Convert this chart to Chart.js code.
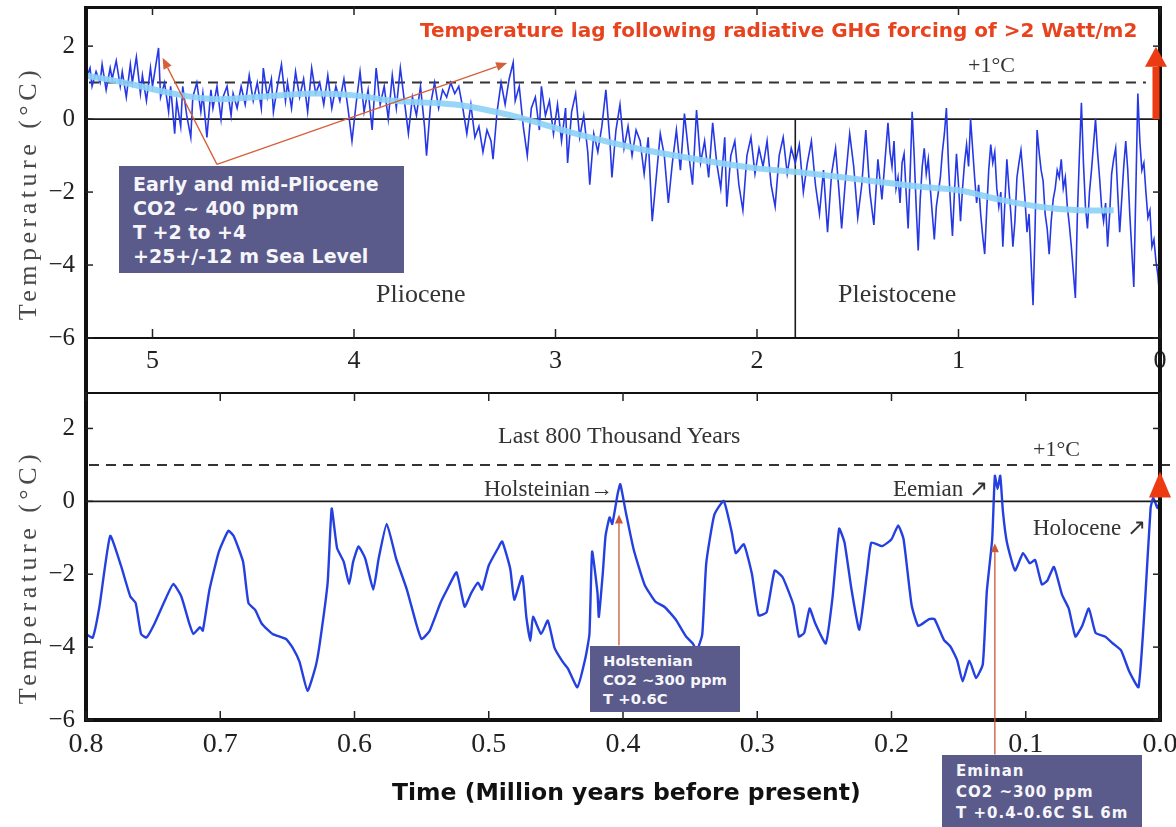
<!DOCTYPE html>
<html>
<head>
<meta charset="utf-8">
<script src="https://cdn.jsdelivr.net/npm/chart.js@4.4.1/dist/chart.umd.min.js"></script>
<style>
  body { margin: 0; background: #fff; }
  #wrap { position: relative; width: 1176px; height: 827px; overflow: hidden; }
  canvas { position: absolute; left: 0; }
  #topChart { top: 0; }
  #lowChart { top: 392px; }
  .lbl { position: absolute; font-family: 'Liberation Serif', serif; color: #333; white-space: nowrap; line-height: 1; }
  .box { position: absolute; background: #5a5b8b; color: #f6f6fa; font-family: 'DejaVu Sans', sans-serif; font-weight: bold; white-space: nowrap; box-sizing: border-box; }
  .ytitle { position: absolute; font-family: 'Liberation Serif', serif; font-size: 26px; color: #4a4a4a; letter-spacing: 4.5px; white-space: nowrap; transform: translate(-50%, -50%) rotate(-90deg); }
</style>
</head>
<body>
<div id="wrap">
  <canvas id="topChart" width="1176" height="392"></canvas>
  <canvas id="lowChart" width="1176" height="435"></canvas>

  <div class="ytitle" style="left:28px; top:193px;">Temperature (°C)</div>
  <div class="ytitle" style="left:28px; top:577px;">Temperature (°C)</div>

  <div class="lbl" style="left:420px; top:20px; font-family:'DejaVu Sans',sans-serif; font-weight:bold; font-size:20px; color:#e8431f;">Temperature lag following radiative GHG forcing of &gt;2 Watt/m2</div>
  <div class="lbl" style="left:968px; top:54px; font-size:22px;">+1°C</div>
  <div class="lbl" style="left:376px; top:281px; font-size:26px;">Pliocene</div>
  <div class="lbl" style="left:838px; top:281px; font-size:26px;">Pleistocene</div>

  <div class="lbl" style="left:498px; top:423px; font-size:24px;">Last 800 Thousand Years</div>
  <div class="lbl" style="left:1033px; top:438px; font-size:22px;">+1°C</div>
  <div class="lbl" style="left:484px; top:477px; font-size:23px;">Holsteinian→</div>
  <div class="lbl" style="left:893px; top:477px; font-size:23px;">Eemian ↗</div>
  <div class="lbl" style="left:1033px; top:516px; font-size:23px;">Holocene ↗</div>

  <div class="box" style="left:119px; top:166px; width:285px; height:107px; padding:6px 0 0 14px; font-size:19px; line-height:24px;">Early and mid-Pliocene<br>CO2 ~ 400 ppm<br>T +2 to +4<br>+25+/-12 m Sea Level</div>
  <div class="box" style="left:590px; top:646px; width:150px; height:66px; padding:5px 0 0 13px; font-size:14.8px; line-height:19px;">Holstenian<br>CO2 ~300 ppm<br>T +0.6C</div>
  <div class="box" style="left:942px; top:755px; width:200px; height:72px; padding:6px 0 0 14px; font-size:15px; letter-spacing:1px; line-height:21px;">Eminan<br>CO2 ~300 ppm<br>T +0.4-0.6C SL 6m</div>

  <div class="lbl" style="left:392px; top:781px; font-family:'DejaVu Sans',sans-serif; font-weight:bold; font-size:23.5px; color:#111;">Time (Million years before present)</div>
</div>

<script>
// [age in Myr, temperature anomaly in degC]
const plioPleistocene = [
  [5.33,1.1],[5.31,1.4],[5.30,0.9],[5.28,1.3],[5.26,1.0],[5.25,1.5],[5.23,0.8],[5.21,1.4],[5.20,1.1],[5.18,1.6],
  [5.16,0.9],[5.15,1.3],[5.13,0.6],[5.11,1.5],[5.10,1.0],[5.08,1.7],[5.06,0.7],[5.05,1.2],[5.03,0.5],[5.01,1.4],
  [5.00,0.9],[4.98,1.6],[4.97,1.95],[4.96,0.6],[4.94,1.0],[4.92,0.2],[4.91,0.9],[4.89,-0.4],[4.88,0.5],[4.86,-0.2],
  [4.85,0.9],[4.83,0.1],[4.81,-0.5],[4.80,0.6],[4.78,1.0],[4.76,0.2],[4.75,0.7],[4.73,-0.5],[4.71,0.8],[4.70,0.3],
  [4.68,0.9],[4.66,0.0],[4.65,0.6],[4.63,0.9],[4.61,0.1],[4.60,0.7],[4.58,0.3],[4.56,0.9],[4.54,0.4],[4.52,1.2],
  [4.50,0.5],[4.48,1.0],[4.46,0.3],[4.45,1.4],[4.43,0.6],[4.41,1.1],[4.40,0.2],[4.38,0.9],[4.36,1.5],[4.34,0.5],
  [4.33,1.0],[4.31,0.3],[4.29,1.3],[4.27,0.6],[4.25,1.1],[4.23,0.2],[4.21,1.4],[4.19,0.7],[4.17,1.0],[4.15,0.4],
  [4.13,1.2],[4.11,0.3],[4.09,0.9],[4.07,0.5],[4.05,1.1],[4.03,0.3],[4.01,-0.6],[3.99,0.4],[3.97,1.3],[3.95,0.2],
  [3.93,0.8],[3.91,-0.3],[3.89,1.4],[3.87,0.4],[3.85,0.9],[3.83,0.0],[3.81,1.2],[3.79,0.3],[3.77,1.4],[3.75,0.5],
  [3.73,-0.4],[3.71,0.6],[3.69,0.1],[3.67,0.9],[3.65,-0.2],[3.64,-1.0],[3.62,0.4],[3.60,1.0],[3.58,0.3],[3.56,0.8],
  [3.54,0.6],[3.52,1.0],[3.50,0.7],[3.48,0.9],[3.46,0.3],[3.44,-0.4],[3.42,0.4],[3.40,-0.5],[3.38,-0.2],[3.36,-0.9],
  [3.34,-0.3],[3.32,-0.6],[3.31,-1.1],[3.29,0.2],[3.27,1.0],[3.25,0.4],[3.23,1.1],[3.21,1.55],[3.20,0.5],[3.18,0.9],
  [3.16,-0.2],[3.14,-1.0],[3.12,0.3],[3.10,0.6],[3.08,-0.3],[3.07,0.9],[3.05,0.1],[3.03,0.5],[3.01,-0.4],[2.99,0.4],
  [2.97,-0.6],[2.95,0.3],[2.94,-1.2],[2.92,0.2],[2.90,0.7],[2.88,-0.5],[2.86,0.1],[2.84,-0.9],[2.83,-1.8],[2.81,-0.4],
  [2.79,-0.9],[2.77,-0.2],[2.75,0.8],[2.73,-0.6],[2.72,-1.6],[2.70,-0.3],[2.68,0.4],[2.66,-0.8],[2.64,-0.2],[2.62,-1.0],
  [2.60,-0.3],[2.58,-0.6],[2.56,-1.5],[2.54,-0.5],[2.52,-2.8],[2.50,-1.6],[2.48,-0.4],[2.46,-1.0],[2.44,-2.3],[2.42,-1.2],
  [2.40,-0.3],[2.38,-1.4],[2.36,0.15],[2.34,-0.9],[2.32,-1.8],[2.30,0.25],[2.28,-1.2],[2.26,-0.6],[2.24,-1.6],[2.22,-0.1],
  [2.20,-1.2],[2.18,-1.9],[2.16,-0.5],[2.15,-2.4],[2.13,-1.0],[2.11,-0.6],[2.09,-1.8],[2.07,-2.5],[2.05,-1.0],[2.03,-0.5],
  [2.01,-1.5],[1.99,-0.8],[1.97,-1.3],[1.95,-0.6],[1.93,-1.8],[1.91,-2.4],[1.89,-1.0],[1.87,-0.5],[1.85,-1.5],[1.83,-0.8],
  [1.81,-1.2],[1.79,-0.7],[1.77,-2.0],[1.75,-1.2],[1.73,-0.6],[1.71,-1.8],[1.69,-2.6],[1.67,-1.4],[1.65,-3.1],[1.63,-1.5],
  [1.61,-0.8],[1.59,-2.2],[1.58,-3.0],[1.56,-1.6],[1.54,-0.4],[1.52,-1.3],[1.50,-2.7],[1.48,-1.8],[1.46,-0.3],[1.44,-2.0],
  [1.42,-2.9],[1.40,-1.1],[1.38,-2.2],[1.36,-0.8],[1.35,-0.1],[1.34,-0.9],[1.33,-1.3],[1.32,-0.6],[1.31,-1.9],[1.30,-1.6],
  [1.29,-2.3],[1.28,-1.2],[1.27,-0.95],[1.26,-2.0],[1.25,-3.0],[1.24,-1.5],[1.23,0.2],[1.22,-1.0],[1.21,-2.4],[1.20,-3.6],
  [1.19,-2.2],[1.18,-1.3],[1.17,-0.8],[1.16,-1.5],[1.15,-1.1],[1.14,-1.9],[1.13,-2.6],[1.12,-3.3],[1.11,-2.4],[1.10,-2.0],
  [1.09,-1.6],[1.08,-0.9],[1.07,-0.4],[1.06,0.3],[1.05,-1.2],[1.04,-2.3],[1.03,-3.2],[1.02,-2.0],[1.01,-0.95],[1.00,-1.8],
  [0.99,-2.8],[0.98,-1.9],[0.97,-1.2],[0.96,-0.7],[0.95,-1.3],[0.94,0.0],[0.93,-0.8],[0.92,-1.6],[0.91,-2.3],[0.90,-1.8],
  [0.89,-2.6],[0.88,-3.2],[0.87,-3.7],[0.86,-2.5],[0.85,-1.4],[0.84,-0.7],[0.83,-1.2],[0.82,-0.9],[0.81,-1.9],[0.80,-2.4],
  [0.79,-2.0],[0.78,-3.5],[0.77,-2.3],[0.76,-1.1],[0.75,-1.9],[0.74,-2.6],[0.73,-3.5],[0.72,-2.8],[0.71,-1.6],[0.70,-1.2],
  [0.69,-0.85],[0.68,-1.5],[0.67,-2.2],[0.66,-3.1],[0.65,-2.6],[0.64,-3.9],[0.63,-5.1],[0.62,-3.0],[0.61,-0.3],[0.60,-0.9],
  [0.59,-1.4],[0.58,-1.7],[0.57,-2.6],[0.56,-3.0],[0.55,-3.7],[0.54,-2.8],[0.53,-2.2],[0.52,-1.9],[0.51,-1.4],[0.50,-1.6],
  [0.49,-1.1],[0.48,-1.9],[0.47,-1.6],[0.46,-2.4],[0.45,-2.9],[0.44,-3.5],[0.43,-4.2],[0.42,-4.9],[0.41,-2.6],[0.40,-1.0],
  [0.39,0.45],[0.38,-1.2],[0.37,-2.4],[0.36,-3.0],[0.35,-2.0],[0.34,-1.4],[0.33,-0.7],[0.32,0.0],[0.31,-0.9],[0.30,-1.6],
  [0.29,-2.4],[0.28,-2.8],[0.27,-2.3],[0.26,-3.5],[0.25,-2.6],[0.24,-1.5],[0.23,-1.1],[0.22,-0.8],[0.21,-2.0],[0.20,-3.1],
  [0.19,-2.2],[0.18,-1.3],[0.17,-0.6],[0.16,-1.4],[0.15,-2.6],[0.14,-3.6],[0.13,-4.6],[0.12,-2.0],[0.11,0.7],[0.10,-0.6],
  [0.09,-1.4],[0.08,-1.2],[0.07,-2.0],[0.06,-2.7],[0.05,-2.5],[0.04,-3.5],[0.03,-3.3],[0.02,-3.9],[0.01,-4.3],[0.00,-5.0]
];

// smoothed trend (light blue)
const plioTrend = [
  [5.33,1.2],[5.1,0.95],[4.9,0.7],[4.7,0.55],[4.5,0.6],[4.2,0.7],[4.0,0.65],[3.8,0.5],[3.5,0.4],[3.3,0.2],
  [3.15,0.0],[2.9,-0.4],[2.6,-0.8],[2.3,-1.1],[2.0,-1.35],[1.8,-1.45],[1.5,-1.65],[1.2,-1.85],[1.0,-1.95],[0.8,-2.2],
  [0.6,-2.4],[0.4,-2.5],[0.23,-2.5]
];

// last 800 thousand years
const last800k = [
  [0.800,-3.64],[0.795,-3.74],[0.790,-2.89],[0.782,-0.95],[0.774,-1.76],[0.767,-2.61],[0.763,-2.79],[0.759,-3.64],[0.755,-3.74],[0.749,-3.36],
  [0.741,-2.70],[0.735,-2.27],[0.729,-2.61],[0.723,-3.36],[0.720,-3.64],[0.715,-3.45],[0.713,-3.55],[0.708,-2.42],[0.701,-1.38],[0.694,-0.81],
  [0.690,-0.95],[0.683,-1.66],[0.679,-2.79],[0.674,-2.98],[0.669,-3.36],[0.661,-3.64],[0.651,-3.78],[0.646,-4.02],[0.641,-4.40],[0.635,-5.20],
  [0.629,-4.54],[0.626,-3.93],[0.620,-2.23],[0.617,-0.20],[0.613,-1.28],[0.608,-1.66],[0.604,-2.27],[0.601,-1.66],[0.597,-1.24],[0.592,-1.57],
  [0.586,-2.42],[0.582,-1.57],[0.576,-0.62],[0.569,-1.57],[0.561,-2.42],[0.554,-3.36],[0.550,-3.78],[0.544,-3.55],[0.536,-2.79],[0.531,-2.42],
  [0.524,-1.95],[0.518,-2.89],[0.513,-2.51],[0.508,-2.23],[0.505,-2.42],[0.500,-1.76],[0.493,-1.28],[0.490,-1.10],[0.484,-1.85],[0.481,-2.70],
  [0.475,-2.05],[0.472,-3.17],[0.469,-3.83],[0.467,-3.17],[0.461,-3.64],[0.456,-3.27],[0.451,-4.02],[0.445,-4.40],[0.441,-4.59],[0.434,-5.10],
  [0.428,-4.30],[0.425,-3.64],[0.423,-1.38],[0.419,-2.51],[0.418,-3.17],[0.415,-1.95],[0.413,-0.95],[0.410,-0.44],[0.408,-0.62],[0.404,0.20],
  [0.402,0.47],[0.398,-0.28],[0.392,-1.33],[0.384,-2.28],[0.376,-2.75],[0.369,-2.90],[0.361,-3.23],[0.353,-3.71],[0.348,-3.90],[0.345,-4.09],
  [0.341,-3.66],[0.338,-1.70],[0.332,-0.37],[0.325,0.01],[0.319,-0.85],[0.316,-1.42],[0.310,-1.18],[0.304,-1.99],[0.299,-3.13],[0.293,-3.04],
  [0.287,-1.90],[0.281,-2.09],[0.273,-2.85],[0.269,-3.71],[0.265,-3.61],[0.261,-2.94],[0.257,-3.33],[0.249,-3.90],[0.244,-2.66],[0.239,-0.75],
  [0.235,-1.13],[0.230,-2.37],[0.224,-3.52],[0.218,-1.90],[0.215,-1.13],[0.207,-1.23],[0.200,-1.04],[0.195,-0.66],[0.191,-1.04],[0.185,-2.85],
  [0.180,-3.42],[0.172,-3.23],[0.168,-3.23],[0.161,-3.80],[0.156,-3.99],[0.151,-4.37],[0.147,-4.94],[0.142,-4.37],[0.137,-4.85],[0.132,-4.47],
  [0.129,-2.47],[0.125,-1.04],[0.123,0.70],[0.121,0.34],[0.119,0.70],[0.117,-0.28],[0.114,-1.13],[0.108,-1.90],[0.102,-1.42],[0.097,-1.70],
  [0.093,-1.61],[0.088,-2.28],[0.084,-2.18],[0.079,-1.80],[0.073,-2.56],[0.068,-2.94],[0.063,-3.71],[0.058,-3.42],[0.053,-2.94],[0.048,-3.61],
  [0.041,-3.71],[0.035,-3.90],[0.029,-4.09],[0.023,-4.66],[0.016,-5.10],[0.011,-2.66],[0.007,-0.18],[0.005,0.10],[0.002,-0.18],[0.000,0.0]
];

const topXTicks = [0, 1, 2, 3, 4, 5];
const lowXTicks = [0, 0.1, 0.2, 0.3, 0.4, 0.5, 0.6, 0.7, 0.8];

function toXY(list) {
    return list.map(p => ({ x: p[0], y: p[1] }));
}

function minusLabel(v) {
    return v < 0 ? '\u2212' + Math.abs(v) : String(v);
}

// draws an arrow between two data points, head at "to"
function drawArrow(ctx, x, y, a) {
    const x1 = x.getPixelForValue(a.from[0]), y1 = y.getPixelForValue(a.from[1]);
    const x2 = x.getPixelForValue(a.to[0]), y2 = y.getPixelForValue(a.to[1]);
    const ang = Math.atan2(y2 - y1, x2 - x1);
    const bx = x2 - Math.cos(ang) * a.headLen, by = y2 - Math.sin(ang) * a.headLen;
    ctx.strokeStyle = a.color;
    ctx.fillStyle = a.color;
    if (a.width > 0) {
        ctx.lineWidth = a.width;
        ctx.beginPath(); ctx.moveTo(x1, y1); ctx.lineTo(bx, by); ctx.stroke();
    }
    const nx = -Math.sin(ang) * a.headW / 2, ny = Math.cos(ang) * a.headW / 2;
    ctx.beginPath();
    ctx.moveTo(x2, y2);
    ctx.lineTo(bx + nx, by + ny);
    ctx.lineTo(bx - nx, by - ny);
    ctx.closePath();
    ctx.fill();
}

const panelDecor = {
    id: 'panelDecor',
    beforeDatasetsDraw(chart, args, o) {
        const { ctx, chartArea: a, scales: { x, y } } = chart;
        ctx.save();
        // +1 degree dashed line
        ctx.strokeStyle = '#333';
        ctx.lineWidth = 2;
        ctx.setLineDash([10, 7]);
        const y1 = y.getPixelForValue(1);
        ctx.beginPath(); ctx.moveTo(a.left + 3, y1); ctx.lineTo(x.getPixelForValue(o.dashEndAge), y1); ctx.stroke();
        ctx.setLineDash([]);
        // zero line
        ctx.strokeStyle = '#1a1a1a';
        ctx.lineWidth = 1.6;
        const y0 = y.getPixelForValue(0);
        ctx.beginPath(); ctx.moveTo(a.left, y0); ctx.lineTo(a.right, y0); ctx.stroke();
        if (o.boundaryAge != null) {
            const bx = x.getPixelForValue(o.boundaryAge);
            ctx.beginPath(); ctx.moveTo(bx, y0); ctx.lineTo(bx, a.bottom); ctx.stroke();
        }
        ctx.restore();
    },
    afterDraw(chart, args, o) {
        const { ctx, chartArea: a, scales: { x, y } } = chart;
        ctx.save();
        ctx.strokeStyle = '#111';
        // frame
        ctx.lineWidth = o.topWidth;
        ctx.beginPath(); ctx.moveTo(a.left - 2, a.top + o.topWidth / 2); ctx.lineTo(a.right + 2, a.top + o.topWidth / 2); ctx.stroke();
        ctx.lineWidth = o.bottomWidth;
        ctx.beginPath(); ctx.moveTo(a.left - 2, a.bottom); ctx.lineTo(a.right + 2, a.bottom); ctx.stroke();
        const sideEnd = o.sidesToCanvasEnd ? chart.height : a.bottom;
        ctx.lineWidth = 4;
        ctx.beginPath(); ctx.moveTo(a.left, a.top); ctx.lineTo(a.left, sideEnd); ctx.stroke();
        ctx.beginPath(); ctx.moveTo(a.right, a.top); ctx.lineTo(a.right, sideEnd); ctx.stroke();
        // inward ticks
        ctx.lineWidth = 1.5;
        ctx.strokeStyle = '#222';
        x.ticks.forEach(t => {
            const px = x.getPixelForValue(t.value);
            ctx.beginPath(); ctx.moveTo(px, a.top); ctx.lineTo(px, a.top + 9); ctx.stroke();
            ctx.beginPath(); ctx.moveTo(px, a.bottom); ctx.lineTo(px, a.bottom - 9); ctx.stroke();
        });
        y.ticks.forEach(t => {
            const py = y.getPixelForValue(t.value);
            ctx.beginPath(); ctx.moveTo(a.left, py); ctx.lineTo(a.left + 7, py); ctx.stroke();
            ctx.beginPath(); ctx.moveTo(a.right, py); ctx.lineTo(a.right - 7, py); ctx.stroke();
        });
        // annotation arrows
        (o.arrows || []).forEach(arr => drawArrow(ctx, x, y, arr));
        ctx.restore();
    }
};

function fixAxis(width, height) {
    return function (s) {
        if (width != null) s.width = width;
        if (height != null) s.height = height;
        s.paddingTop = 0; s.paddingBottom = 0; s.paddingLeft = 0; s.paddingRight = 0;
    };
}

Chart.defaults.font.family = "'Liberation Serif', serif";
Chart.defaults.color = '#222';

new Chart(document.getElementById('topChart'), {
    type: 'line',
    data: {
        datasets: [
            { data: toXY(plioTrend), borderColor: 'rgba(140,210,245,0.9)', borderWidth: 6, pointRadius: 0, tension: 0.4, order: 0 },
            { data: toXY(plioPleistocene), borderColor: '#2638e6', borderWidth: 1.6, pointRadius: 0, tension: 0, order: 1 }
        ]
    },
    options: {
        responsive: false,
        animation: false,
        events: [],
        layout: { padding: { top: 6, right: 16, left: 0, bottom: 0 } },
        scales: {
            x: {
                type: 'linear', reverse: true, min: 0, max: 5.33,
                afterBuildTicks: s => { s.ticks = topXTicks.map(v => ({ value: v })); },
                afterFit: fixAxis(null, 54),
                grid: { display: false, drawTicks: false },
                border: { display: false },
                ticks: { font: { size: 26 }, color: '#222', padding: 8, maxRotation: 0, autoSkip: false, callback: v => String(v) }
            },
            y: {
                min: -6, max: 3.1,
                afterFit: fixAxis(86, null),
                grid: { display: false, drawTicks: false },
                border: { display: false },
                ticks: { stepSize: 2, includeBounds: false, font: { size: 25 }, color: '#222', padding: 11, callback: minusLabel }
            }
        },
        plugins: {
            legend: { display: false },
            tooltip: { enabled: false },
            panelDecor: {
                dashEndAge: 0.07, boundaryAge: 1.81, topWidth: 3, bottomWidth: 2, sidesToCanvasEnd: true,
                arrows: [
                    { from: [4.68, -1.24], to: [4.95, 1.68], color: '#d4603a', width: 1.3, headLen: 11, headW: 9 },
                    { from: [4.68, -1.24], to: [3.24, 1.54], color: '#d4603a', width: 1.3, headLen: 11, headW: 9 },
                    { from: [0.02, 0], to: [0.02, 1.98], color: '#ec3b12', width: 7, headLen: 20, headW: 22 }
                ]
            }
        }
    },
    plugins: [panelDecor]
});

new Chart(document.getElementById('lowChart'), {
    type: 'line',
    data: {
        datasets: [
            { data: toXY(last800k), borderColor: '#2540e0', borderWidth: 2.4, pointRadius: 0, tension: 0.15 }
        ]
    },
    options: {
        responsive: false,
        animation: false,
        events: [],
        layout: { padding: { top: 0, right: 16, left: 0, bottom: 0 } },
        scales: {
            x: {
                type: 'linear', reverse: true, min: 0, max: 0.8,
                afterBuildTicks: s => { s.ticks = lowXTicks.map(v => ({ value: v })); },
                afterFit: fixAxis(null, 107),
                grid: { display: false, drawTicks: false },
                border: { display: false },
                ticks: { font: { size: 28 }, color: '#222', padding: 8, maxRotation: 0, autoSkip: false, callback: v => v.toFixed(1) }
            },
            y: {
                min: -6, max: 3,
                afterFit: fixAxis(86, null),
                grid: { display: false, drawTicks: false },
                border: { display: false },
                ticks: { stepSize: 2, includeBounds: false, font: { size: 25 }, color: '#222', padding: 11, callback: minusLabel }
            }
        },
        plugins: {
            legend: { display: false },
            tooltip: { enabled: false },
            panelDecor: {
                dashEndAge: -0.01, boundaryAge: null, topWidth: 2, bottomWidth: 4, sidesToCanvasEnd: false,
                arrows: [
                    { from: [0.403, -3.95], to: [0.403, -0.36], color: '#c9573a', width: 1.3, headLen: 9, headW: 8 },
                    { from: [0.123, -6.95], to: [0.123, -1.15], color: '#c9573a', width: 1.3, headLen: 9, headW: 8 },
                    { from: [0.0, 0.1], to: [0.0, 0.82], color: '#ec3b12', width: 0, headLen: 26, headW: 22 }
                ]
            }
        }
    },
    plugins: [panelDecor]
});
</script>
</body>
</html>
